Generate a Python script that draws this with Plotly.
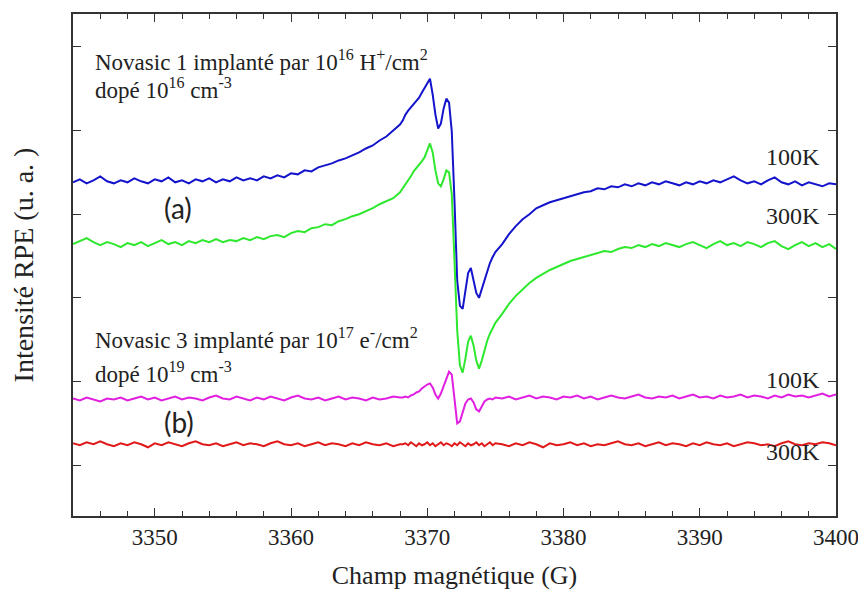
import numpy as np
import plotly.graph_objects as go

# Magnetic field sampling grid (G)
field = np.round(np.concatenate([
    np.arange(3344.0, 3368.01, 0.5),
    np.arange(3368.2, 3375.01, 0.2),
    np.arange(3375.5, 3400.01, 0.5),
]), 2)

# EPR intensity (arbitrary units)
a_100K = [
    284, 287, 283, 286, 290, 285, 283, 286, 284, 288, 285, 283, 287, 285, 289, 284, 286, 283, 287, 285,
    288, 284, 287, 285, 289, 286, 288, 286, 290, 288, 291, 289, 293, 292, 296, 295, 299, 301, 303, 306,
    308, 311, 314, 318, 321, 326, 330, 336, 342,
    346, 352, 356, 359, 362, 366, 369, 374, 379, 384, 388, 372, 352, 338, 343, 358, 368, 364, 335, 265,
    185, 160, 157, 175, 193, 198, 187, 173, 168, 177, 186, 195, 203, 209, 214,
    222, 232, 240, 247, 252, 258, 261, 264, 266, 268, 270, 272, 274, 275, 278, 277, 280, 279, 282, 280,
    283, 281, 284, 282, 285, 283, 281, 284, 282, 285, 283, 286, 284, 287, 290, 286, 283, 285, 282, 286,
    289, 284, 282, 285, 281, 284, 282, 280, 283, 282,
]
a_300K = [
    222, 225, 228, 224, 221, 224, 222, 219, 223, 221, 224, 220, 223, 226, 222, 224, 221, 225, 223, 226,
    224, 227, 224, 226, 225, 228, 226, 229, 227, 230, 231, 229, 233, 235, 234, 238, 239, 242, 241, 245,
    247, 250, 252, 255, 258, 262, 265, 268, 274,
    278, 282, 285, 290, 295, 298, 302, 305, 309, 316, 323, 314, 296, 283, 280, 287, 296, 294, 272, 205,
    135, 100, 93, 107, 124, 130, 120, 105, 97, 105, 115, 125, 132, 138, 143,
    152, 162, 170, 177, 183, 188, 192, 196, 199, 202, 205, 207, 209, 211, 213, 215, 214, 217, 219, 218,
    221, 219, 222, 220, 223, 221, 219, 222, 224, 221, 218, 222, 225, 221, 223, 220, 224, 222, 219, 223,
    225, 220, 217, 221, 224, 220, 223, 219, 222, 217,
]
b_100K = [
    67, 65, 68, 66, 64, 67, 66, 68, 65, 67, 69, 66, 68, 65, 67, 69, 66, 68, 67, 65,
    68, 70, 67, 66, 69, 67, 65, 68, 66, 69, 67, 65, 68, 70, 67, 66, 68, 65, 67, 69,
    66, 68, 67, 65, 68, 66, 67, 69, 68,
    68, 69, 68, 70, 71, 73, 74, 77, 79, 81, 82, 78, 71, 67, 72, 80, 88, 94, 91, 67,
    42, 44, 54, 62, 66, 67, 63, 56, 54, 59, 64, 66, 67, 66, 68,
    67, 69, 66, 68, 70, 67, 69, 68, 66, 69, 68, 70, 67, 69, 66, 68, 70, 68, 67, 69,
    71, 68, 67, 69, 68, 70, 67, 69, 71, 68, 69, 67, 70, 68, 69, 71, 68, 70, 69, 67,
    70, 68, 71, 69, 70, 68, 70, 72, 69, 71,
]
b_300K = [
    22, 20, 23, 21, 24, 21, 19, 22, 20, 23, 21, 18, 22, 20, 23, 21, 19, 22, 24, 21,
    20, 22, 19, 21, 23, 20, 22, 21, 19, 22, 24, 21, 20, 22, 19, 21, 23, 20, 22, 21,
    19, 22, 20, 23, 21, 20, 22, 19, 21,
    21, 22, 20, 23, 21, 19, 22, 20, 21, 23, 20, 22, 19, 21, 23, 20, 22, 21, 19, 22,
    20, 23, 21, 19, 22, 20, 21, 23, 20, 22, 19, 21, 23, 20, 22,
    21, 19, 22, 20, 23, 21, 18, 22, 20, 21, 23, 20, 22, 19, 21, 20, 22, 24, 21, 20,
    22, 19, 21, 23, 20, 22, 21, 19, 22, 20, 23, 21, 20, 22, 19, 21, 23, 22, 20, 21,
    19, 22, 24, 21, 20, 22, 21, 23, 22, 20,
]

series = [
    ("(a) 100K", a_100K, "#1414cc"),
    ("(a) 300K", a_300K, "#2ee82e"),
    ("(b) 100K", b_100K, "#e11fe1"),
    ("(b) 300K", b_300K, "#e01a1a"),
]

x_ticks = [3350, 3360, 3370, 3380, 3390, 3400]
y_ticks = [0, 84, 168, 252, 336, 420]

fig = go.Figure()
for name, ys, col in series:
    fig.add_trace(go.Scatter(x=field, y=ys, mode="lines", name=name,
                             line=dict(color=col, width=2)))

serif = "Liberation Serif"
fig.update_layout(
    width=858, height=585,
    margin=dict(l=65, r=30, t=4, b=77),
    paper_bgcolor="white", plot_bgcolor="white",
    showlegend=False,
    font=dict(family=serif, color="#222222"),
)
fig.update_xaxes(
    range=[3344, 3400], tickvals=x_ticks, ticktext=[str(v) for v in x_ticks],
    ticks="inside", ticklen=8, tickwidth=1.3, tickcolor="#333",
    minor=dict(dtick=2, ticks="inside", ticklen=5, tickwidth=1, tickcolor="#333"),
    showline=True, linecolor="#333", linewidth=1.5, mirror="allticks",
    showgrid=False, zeroline=False,
    tickfont=dict(family=serif, size=23, color="#222"),
    title=dict(text="Champ magnétique (G)", font=dict(family=serif, size=26, color="#222"), standoff=16),
)
fig.update_yaxes(
    range=[-51, 453], tickvals=y_ticks, showticklabels=False,
    ticks="inside", ticklen=8, tickwidth=1.3, tickcolor="#333",
    showline=True, linecolor="#333", linewidth=1.5, mirror="allticks",
    showgrid=False, zeroline=False,
    title=dict(text="Intensité RPE (u. a. )", font=dict(family=serif, size=28, color="#222"), standoff=30),
)

def note(text, x, y, size, family=serif, xanchor="left"):
    fig.add_annotation(text=text, xref="paper", yref="paper", x=x, y=y,
                       xanchor=xanchor, yanchor="middle", showarrow=False,
                       font=dict(family=family, size=size, color="#222"))

note("Novasic 1 implanté par 10<sup>16</sup> H<sup>+</sup>/cm<sup>2</sup>", 0.026, 0.907, 23)
note("dopé 10<sup>16</sup> cm<sup>-3</sup>", 0.026, 0.851, 23)
note("Novasic 3 implanté par 10<sup>17</sup> e<sup>-</sup>/cm<sup>2</sup>", 0.026, 0.353, 23)
note("dopé 10<sup>19</sup> cm<sup>-3</sup>", 0.026, 0.286, 23)
note("(a)", 0.116, 0.613, 28, family="Lato")
note("(b)", 0.116, 0.187, 28, family="Lato")
note("100K", 0.982, 0.716, 24, xanchor="right")
note("300K", 0.982, 0.597, 24, xanchor="right")
note("100K", 0.982, 0.270, 24, xanchor="right")
note("300K", 0.982, 0.127, 24, xanchor="right")

fig.write_html("out.html")
